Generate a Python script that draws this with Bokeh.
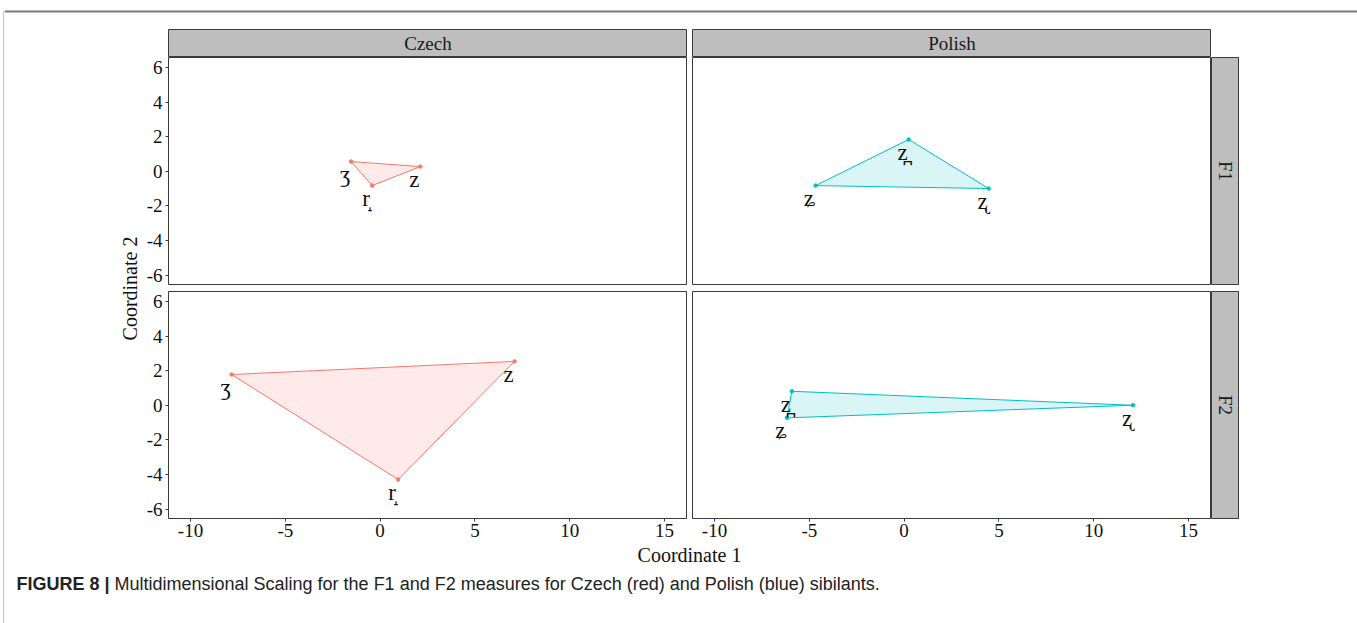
import math
from bokeh.plotting import figure
from bokeh.layouts import row, column
from bokeh.models import Range1d, FixedTicker, ColumnDataSource
from bokeh.core.properties import value
from bokeh.embed import file_html
from bokeh.resources import INLINE

# ---------------- data ----------------
languages = ["Czech", "Polish"]
measures = ["F1", "F2"]

czech_labels = ["ʒ", "z", "r\u031d"]
czech_f1_x = [-1.53, 2.12, -0.42]
czech_f1_y = [0.57, 0.28, -0.82]
czech_f2_x = [-7.83, 7.09, 0.95]
czech_f2_y = [1.79, 2.55, -4.29]

polish_labels_f1 = ["z\u032a", "ʑ", "ʐ"]
polish_f1_x = [0.24, -4.67, 4.46]
polish_f1_y = [1.85, -0.82, -0.99]
polish_labels_f2 = ["z\u032a", "ʑ", "ʐ"]
polish_f2_x = [-5.92, -6.18, 12.07]
polish_f2_y = [0.82, -0.72, 0.01]

x_ticks = [-10, -5, 0, 5, 10, 15]
y_ticks = [-6, -4, -2, 0, 2, 4, 6]
x_title = "Coordinate 1"
y_title = "Coordinate 2"
caption_bold = "FIGURE 8 |"
caption_text = "Multidimensional Scaling for the F1 and F2 measures for Czech (red) and Polish (blue) sibilants."

XR = (-11.16, 16.21)
YR = (-6.55, 6.6)
RED = "#F8766D"
CYAN = "#00BFC4"
SERIF = "Liberation Serif"
SANS = "Liberation Sans"
STRIP = "#BEBEBE"
BORDER = "#3a3a3a"


def base(w, h, **kw):
    opts = dict(width=w, height=h, toolbar_location=None, output_backend="svg",
                min_border=0, min_border_left=0, min_border_right=0,
                min_border_top=0, min_border_bottom=0)
    opts.update(kw)
    p = figure(**opts)
    p.grid.visible = False
    return p


def blank(w, h, xr=(0, 1), yr=(0, 1), bg="white"):
    p = base(w, h, x_range=Range1d(*xr), y_range=Range1d(*yr),
             x_axis_location=None, y_axis_location=None)
    p.outline_line_color = None
    p.background_fill_color = bg
    p.border_fill_color = bg
    return p


def strip(w, h, label, angle=0.0, mbb=0):
    p = base(w, h, x_range=Range1d(0, 1), y_range=Range1d(0, 1),
             x_axis_location=None, y_axis_location=None, min_border_bottom=mbb)
    p.background_fill_color = STRIP
    p.outline_line_color = BORDER
    p.outline_line_width = 1
    p.text(x=[0.5], y=[0.5], text=[label], angle=angle, text_align="center",
           text_baseline="middle", text_font=value(SERIF), text_font_size="19px",
           text_color="#1a1a1a")
    return p


def panel(w, h, xs, ys, labels, color, left_axis, bottom_axis, mbl, mbb):
    p = base(w, h, x_range=Range1d(*XR), y_range=Range1d(*YR),
             x_axis_location="below" if bottom_axis else None,
             y_axis_location="left" if left_axis else None,
             min_border_left=mbl, min_border_bottom=mbb)
    p.outline_line_color = BORDER
    p.outline_line_width = 1
    for ax in p.axis:
        ax.axis_line_color = None
        ax.major_tick_line_color = BORDER
        ax.major_tick_out = 3
        ax.major_tick_in = 0
        ax.minor_tick_line_color = None
        ax.major_label_text_font = SERIF
        ax.major_label_text_font_size = "19px"
        ax.major_label_text_color = "#111111"
    if bottom_axis:
        for ax in p.xaxis:
            ax.ticker = FixedTicker(ticks=x_ticks)
            ax.major_label_overrides = {t: str(t) for t in x_ticks}
            ax.major_label_standoff = 2
    if left_axis:
        for ax in p.yaxis:
            ax.ticker = FixedTicker(ticks=y_ticks)
            ax.major_label_overrides = {t: str(t) for t in y_ticks}
            ax.major_label_standoff = 3
    src = ColumnDataSource(dict(x=xs, y=ys, label=labels))
    p.patch(x=xs, y=ys, fill_color=color, fill_alpha=0.15, line_color=color,
            line_width=1)
    p.scatter(x="x", y="y", source=src, size=3.5, color=color)
    p.text(x="x", y="y", text="label", source=src, x_offset=-6, y_offset=13,
           text_align="center", text_baseline="middle", text_font=value(SERIF),
           text_font_size="23px", text_color="#111111")
    return p


W = 1353
# header with top frame line
header = blank(W, 29, xr=(0, W), yr=(29, 0))
header.segment(x0=[0], y0=[11], x1=[W], y1=[11], line_color="#7a7a7a", line_width=2)

# strip row
strip_row = row(
    blank(164, 28),
    strip(519, 28, languages[0]),
    blank(5, 28),
    strip(519, 28, languages[1]),
    blank(W - 164 - 519 - 5 - 519, 28),
)

# panel rows
tl = panel(547, 234, czech_f1_x, czech_f1_y, czech_labels, RED, True, False, 28, 7)
tr = panel(524, 234, polish_f1_x, polish_f1_y, polish_labels_f1, CYAN, False, False, 5, 7)
f1 = strip(28, 234, measures[0], angle=-math.pi / 2, mbb=7)
bl = panel(547, 251, czech_f2_x, czech_f2_y, czech_labels, RED, True, True, 28, 24)
br = panel(524, 251, polish_f2_x, polish_f2_y, polish_labels_f2, CYAN, False, True, 5, 24)
f2 = strip(28, 251, measures[1], angle=-math.pi / 2, mbb=24)
rest_w = W - 136 - 547 - 524 - 28
row1 = row(tl, tr, f1, blank(rest_w, 234))
row2 = row(bl, br, f2, blank(rest_w, 251))

ylab = blank(136, 485, xr=(0, 136), yr=(485, 0))
ylab.text(x=[125], y=[231], text=[y_title], angle=math.pi / 2, text_align="center",
          text_baseline="middle", text_font=value(SERIF), text_font_size="20px",
          text_color="#111111")

mid = row(ylab, column(row1, row2))

xlab = blank(W, 24, xr=(0, W), yr=(24, 0))
xlab.text(x=[685], y=[12], text=[x_title], text_align="center", text_baseline="middle",
          text_font=value(SERIF), text_font_size="20px", text_color="#111111")

cap = blank(W, 57, xr=(0, W), yr=(57, 0))
cap.text(x=[12], y=[17], text=[caption_bold], text_align="left", text_baseline="middle",
         text_font=value(SANS), text_font_style="bold",
         text_font_size="18px", text_color="#222222")
cap.text(x=[110], y=[17], text=[caption_text], text_align="left", text_baseline="middle",
         text_font=value(SANS), text_font_size="18px", text_color="#222222")

main = column(header, strip_row, mid, xlab, cap)

border = column(blank(1, 11), blank(1, 612, bg="#8a8a8a"))
layout = row(blank(3, 623), border, main)

open("out.html", "w").write(file_html(layout, INLINE))
